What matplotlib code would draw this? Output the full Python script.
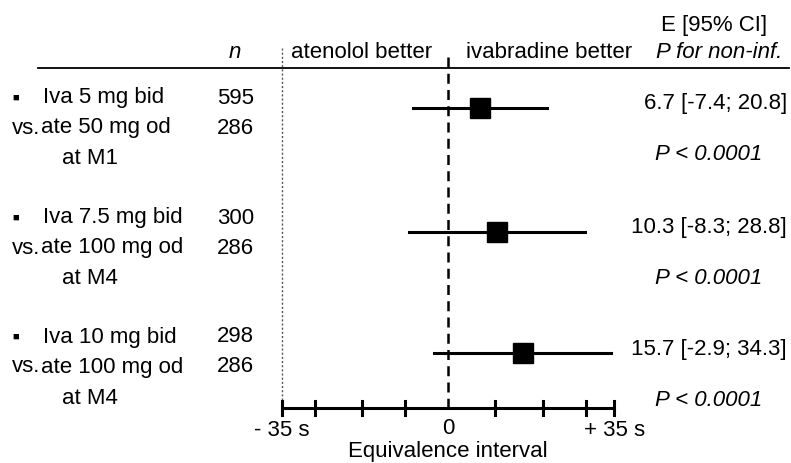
import numpy as np
from matplotlib import pyplot as plt

plt.rcParams['font.family'] = ['Liberation Sans', 'DejaVu Sans']

treatments = ["Iva 5 mg bid", "Iva 7.5 mg bid", "Iva 10 mg bid"]
comparators = ["ate 50 mg od", "ate 100 mg od", "ate 100 mg od"]
timepoints = ["at M1", "at M4", "at M4"]
n_iva = [595, 300, 298]
n_ate = [286, 286, 286]
estimate = [6.7, 10.3, 15.7]
ci_low = [-7.4, -8.3, -2.9]
ci_high = [20.8, 28.8, 34.3]
p_text = ["P < 0.0001", "P < 0.0001", "P < 0.0001"]
margin = 35
ticks = [-35, -28, -18, -9, 10, 20, 29, 35]

# layout: x in data units (s), y in pixel rows from top
x0, scale = 448, 4.75
def px(x):
    return (x - x0) / scale

row_y = [98, 218, 337]
mark_y = [108, 232, 353]
fs = 16

fig = plt.figure(figsize=(7.91, 4.63), dpi=100)
ax = fig.add_axes([0, 0, 1, 1])
ax.set_xlim(px(0), px(791))
ax.set_ylim(463, 0)
ax.axis('off')

# header
ax.plot([px(38), px(789)], [68, 68], color='black', lw=1.3)
ax.text(px(235), 52, 'n', style='italic', ha='center', va='center', fontsize=fs)
ax.text(px(291), 52, 'atenolol better', ha='left', va='center', fontsize=fs)
ax.text(px(466), 52, 'ivabradine better', ha='left', va='center', fontsize=fs)
ax.text(px(714), 25, 'E [95% CI]', ha='center', va='center', fontsize=fs)
ax.text(px(782), 52, 'P for non-inf.', style='italic', ha='right', va='center', fontsize=fs)

# reference lines
ax.plot([-margin, -margin], [48, 408], color='#555555', lw=1, ls=(0, (1.5, 1.5)))
ax.plot([0, 0], [57, 408], color='black', lw=1.8, ls=(0, (4, 2.5)))

for i in range(len(treatments)):
    y = row_y[i]
    ax.text(px(16), y, '\u25a0', ha='center', va='center', fontsize=8)
    ax.text(px(43), y, treatments[i], ha='left', va='center', fontsize=fs)
    ax.text(px(12), y + 30, 'vs.', ha='left', va='center', fontsize=fs)
    ax.text(px(41), y + 30, comparators[i], ha='left', va='center', fontsize=fs)
    ax.text(px(62), y + 61, timepoints[i], ha='left', va='center', fontsize=fs)
    ax.text(px(254), y, str(n_iva[i]), ha='right', va='center', fontsize=fs)
    ax.text(px(254), y + 30, str(n_ate[i]), ha='right', va='center', fontsize=fs)

    ym = mark_y[i]
    ax.plot([ci_low[i], ci_high[i]], [ym, ym], color='black', lw=2.2)
    ax.plot(estimate[i], ym, marker='s', color='black', ms=14.5, mec='black')
    ax.text(px(787), ym - 4, '%.1f [%.1f; %.1f]' % (estimate[i], ci_low[i], ci_high[i]),
            ha='right', va='center', fontsize=fs)
    ax.text(px(709), ym + 47, p_text[i], style='italic', ha='center', va='center', fontsize=fs)

# equivalence axis
ax.plot([-margin, margin], [408, 408], color='black', lw=2.2)
for t in ticks:
    ax.plot([t, t], [401, 415], color='black', lw=2.2)
ax.text(-margin, 431, '- 35 s', ha='center', va='center', fontsize=fs)
ax.text(0, 429, '0', ha='center', va='center', fontsize=fs)
ax.text(margin, 431, '+ 35 s', ha='center', va='center', fontsize=fs)
ax.text(0, 452, 'Equivalence interval', ha='center', va='center', fontsize=fs)

plt.savefig('out.png', dpi=100)
